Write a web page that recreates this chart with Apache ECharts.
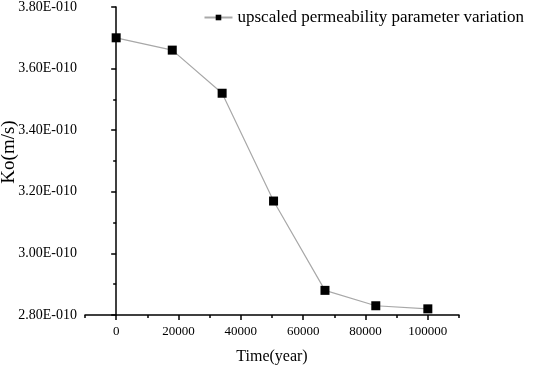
<!DOCTYPE html>
<html>
<head>
<meta charset="utf-8">
<script src="https://cdn.jsdelivr.net/npm/echarts@6/dist/echarts.min.js"></script>
<style>
  html, body { margin: 0; padding: 0; background: #fff; }
  #chart { width: 533px; height: 366px; }
</style>
</head>
<body>
<div id="chart"></div>
<script>
// time in years, Ko in units of 1E-010 m/s
const timeYears = [0, 18000, 34000, 50500, 67000, 83300, 100000];
const koE10 = [3.70, 3.66, 3.52, 3.17, 2.88, 2.83, 2.82];
const xMajorTicks = [0, 20000, 40000, 60000, 80000, 100000];
const xMinorTicks = [-10000, 10000, 30000, 50000, 70000, 90000, 110000];

const serif = 'Liberation Serif';

const chart = echarts.init(document.getElementById('chart'));
chart.setOption({
  animation: false,
  grid: { left: 85, top: 7, right: 74, bottom: 51, outerBoundsMode: 'none', containLabel: false },
  legend: {
    right: 4,
    top: 4,
    itemWidth: 28,
    itemHeight: 7,
    itemGap: 8,
    textStyle: { fontFamily: serif, fontSize: 17, color: '#000' },
    data: ['upscaled permeability parameter variation']
  },
  xAxis: [
    {
      type: 'value',
      min: -10000,
      max: 110000,
      name: 'Time(year)',
      nameLocation: 'middle',
      nameGap: 34,
      nameMoveOverlap: false,
      nameTextStyle: { fontFamily: serif, fontSize: 16, color: '#000' },
      axisLine: { lineStyle: { color: '#000', width: 1.5 } },
      axisTick: { customValues: xMajorTicks, length: 5, lineStyle: { color: '#000', width: 1.5 } },
      axisLabel: {
        customValues: xMajorTicks, fontFamily: serif, fontSize: 13, color: '#000', margin: 10,
        formatter: v => String(v)
      },
      splitLine: { show: false }
    },
    {
      type: 'value',
      position: 'bottom',
      min: -10000,
      max: 110000,
      axisLine: { show: false },
      axisTick: { customValues: xMinorTicks, length: 3, lineStyle: { color: '#000', width: 1.5 } },
      axisLabel: { show: false },
      splitLine: { show: false }
    }
  ],
  yAxis: {
    type: 'value',
    min: 2.8,
    max: 3.8,
    interval: 0.2,
    name: 'Ko(m/s)',
    nameLocation: 'middle',
    nameGap: 66,
    nameMoveOverlap: false,
    nameTextStyle: { fontFamily: serif, fontSize: 19, color: '#000', padding: [0, 0, 0, 18] },
    axisLine: { show: true, lineStyle: { color: '#000', width: 1.5 } },
    axisTick: { show: true, length: 5, lineStyle: { color: '#000', width: 1.5 } },
    minorTick: { show: true, splitNumber: 2, length: 3, lineStyle: { color: '#000', width: 1.5 } },
    axisLabel: {
      fontFamily: serif, fontSize: 14, color: '#000', margin: 8,
      formatter: v => v.toFixed(2) + 'E-010'
    },
    splitLine: { show: false }
  },
  series: [{
    name: 'upscaled permeability parameter variation',
    type: 'line',
    xAxisIndex: 0,
    data: timeYears.map((t, i) => [t, koE10[i]]),
    symbol: 'rect',
    symbolSize: 9,
    itemStyle: { color: '#000' },
    lineStyle: { color: '#a8a8a8', width: 1.2 }
  }]
});
</script>
</body>
</html>
